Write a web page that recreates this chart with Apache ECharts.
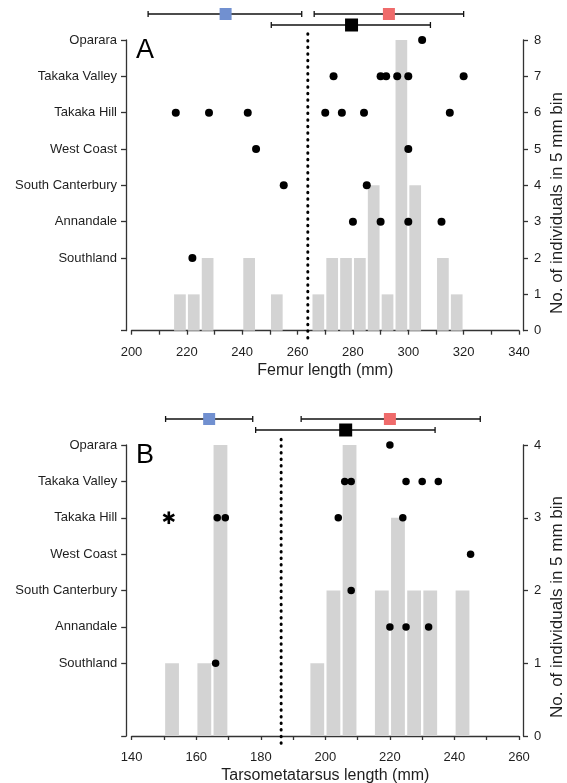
<!DOCTYPE html>
<html>
<head>
<meta charset="utf-8">
<script src="https://cdn.jsdelivr.net/npm/echarts@6/dist/echarts.min.js"></script>
<style>
  html, body { margin: 0; padding: 0; background: #fff; }
  #chart { width: 567px; height: 783px; }
</style>
</head>
<body>
<div id="chart"></div>
<script>
// sites, top to bottom
const sites = ['Oparara', 'Takaka Valley', 'Takaka Hill', 'West Coast', 'South Canterbury', 'Annandale', 'Southland']

// panel A - femur
const femurTicks = [200, 220, 240, 260, 280, 300, 320, 340]
const femurBinStart = [215, 220, 225, 240, 250, 265, 270, 275, 280, 285, 290, 295, 300, 310, 315]
const femurBinCount = [1, 1, 2, 2, 1, 1, 2, 2, 2, 4, 1, 8, 4, 2, 1]
const femurDots = [
    [305],
    [273, 290, 292, 296, 300, 320],
    [216, 228, 242, 270, 276, 284, 315],
    [245, 300],
    [255, 285],
    [280, 290, 300, 312],
    [222]
]
const femurSmall = [206, 234, 261.5] // min, mean, max
const femurLarge = [266, 293, 320]
const femurPooled = [250.5, 279.5, 308]
const femurCutoff = 263.7

// panel B - tarsometatarsus
const tarsoTicks = [140, 160, 180, 200, 220, 240, 260]
const tarsoBinStart = [150, 160, 165, 195, 200, 205, 215, 220, 225, 230, 240]
const tarsoBinCount = [1, 1, 4, 1, 2, 4, 2, 3, 2, 2, 2]
const tarsoDots = [
    [220],
    [206, 208, 225, 230, 235],
    [166.5, 169, 204, 224],
    [245],
    [208],
    [220, 225, 232],
    [166]
]
const tarsoStar = [151.5, 'Takaka Hill']
const tarsoSmall = [150.5, 164, 177.5]
const tarsoLarge = [192.5, 220, 248]
const tarsoPooled = [178.4, 206.3, 234]
const tarsoCutoff = 186.3

const FONT = 'Liberation Sans, Arial, sans-serif'
const AXIS_COLOR = '#333'
const TEXT_COLOR = '#1e1e1e'
const BLUE = '#7190d0'
const RED = '#ef6b6b'

// site row -> position on the site axis
const rowA = i => 8 - i
const rowB = i => 4 - 0.5 * i

const axisLine = { show: true, lineStyle: { color: AXIS_COLOR, width: 1.3 } }
const axisTick = (len) => ({ show: true, length: len, lineStyle: { color: AXIS_COLOR, width: 1.3 } })

function xMain (min, max, ticks, name, grid) {
    return {
        type: 'value', gridIndex: grid, min: min, max: max, interval: 10, offset: 7,
        axisLine: axisLine, axisTick: axisTick(4),
        axisLabel: { customValues: ticks, fontSize: 13, color: TEXT_COLOR, fontFamily: FONT, margin: 8 },
        splitLine: { show: false },
        name: name, nameLocation: 'middle', nameGap: 25,
        nameTextStyle: { fontSize: 16, color: TEXT_COLOR, fontFamily: FONT }
    }
}
function xHidden (min, max, grid) {
    return { type: 'value', gridIndex: grid, min: min, max: max, show: false }
}
function ySites (max, labelVals, tickVals, toRow, grid) {
    return {
        type: 'value', gridIndex: grid, position: 'left', min: 0, max: max, interval: 1, offset: 5.5,
        axisLine: axisLine,
        axisTick: Object.assign(axisTick(5), { customValues: tickVals }),
        axisLabel: {
            customValues: labelVals, fontSize: 13, color: TEXT_COLOR, fontFamily: FONT, margin: 9,
            formatter: (v) => {
                const i = sites.findIndex((s, k) => Math.abs(toRow(k) - v) < 1e-6)
                return i >= 0 ? sites[i] : ''
            }
        },
        splitLine: { show: false }
    }
}
function yCount (max, grid) {
    return {
        type: 'value', gridIndex: grid, position: 'right', min: 0, max: max, interval: 1, offset: 4,
        axisLine: axisLine, axisTick: axisTick(5),
        axisLabel: { fontSize: 13, color: TEXT_COLOR, fontFamily: FONT, margin: 11 },
        splitLine: { show: false }
    }
}
function yHidden (grid) {
    return { type: 'value', gridIndex: grid, min: 0, max: 2, show: false }
}

function barSeries (starts, counts, xi, yi, width) {
    return {
        type: 'bar', xAxisIndex: xi, yAxisIndex: yi, barWidth: width,
        itemStyle: { color: '#d3d3d3' },
        silent: true,
        data: starts.map((s, i) => [s + 2.5, counts[i]])
    }
}
function dotSeries (dots, toRow, xi, yi, size) {
    const data = []
    dots.forEach((list, i) => list.forEach(v => data.push([v, toRow(i)])))
    return {
        type: 'scatter', xAxisIndex: xi, yAxisIndex: yi, symbolSize: size,
        itemStyle: { color: '#000', opacity: 1 },
        data: data, z: 4
    }
}
function cutoffSeries (x, y0, y1, xi, yi) {
    return {
        type: 'line', xAxisIndex: xi, yAxisIndex: yi, clip: false, symbol: 'none',
        lineStyle: { color: '#000', width: 3, type: [0.5, 6.1], cap: 'round' },
        data: [[x, y0], [x, y1]], z: 3
    }
}
function errorSeries (groups, xi, yi) {
    return {
        type: 'custom', xAxisIndex: xi, yAxisIndex: yi, clip: false,
        data: groups.map(g => ({ value: [g.r[0], g.r[1], g.r[2], g.row, g.size], itemStyle: { color: g.color } })),
        renderItem: (params, api) => {
            const row = api.value(3)
            const lo = api.coord([api.value(0), row])
            const mid = api.coord([api.value(1), row])
            const hi = api.coord([api.value(2), row])
            const s = api.value(4)
            const ls = { stroke: '#111', lineWidth: 1.3 }
            return {
                type: 'group',
                children: [
                    { type: 'line', shape: { x1: lo[0], y1: lo[1], x2: hi[0], y2: hi[1] }, style: ls },
                    { type: 'line', shape: { x1: lo[0], y1: lo[1] - 3, x2: lo[0], y2: lo[1] + 3 }, style: ls },
                    { type: 'line', shape: { x1: hi[0], y1: hi[1] - 3, x2: hi[0], y2: hi[1] + 3 }, style: ls },
                    { type: 'rect', shape: { x: mid[0] - s / 2, y: mid[1] - s / 2, width: s, height: s }, style: { fill: api.visual('color') } }
                ]
            }
        }
    }
}
// six-armed asterisk drawn around a data point
function starSeries (pt, xi, yi) {
    return {
        type: 'custom', xAxisIndex: xi, yAxisIndex: yi,
        data: [pt],
        renderItem: (params, api) => {
            const c = api.coord([api.value(0), api.value(1)])
            const r = 6.3
            const arms = [90, 30, 150].map(a => {
                const dx = r * Math.cos(a * Math.PI / 180)
                const dy = r * Math.sin(a * Math.PI / 180)
                return { type: 'line', shape: { x1: c[0] - dx, y1: c[1] - dy, x2: c[0] + dx, y2: c[1] + dy },
                    style: { stroke: '#000', lineWidth: 2.6 } }
            })
            return { type: 'group', children: arms }
        }
    }
}

const option = {
    animation: false,
    backgroundColor: '#fff',
    grid: [
        { left: 131.5, right: 48, top: 40, height: 290.7, outerBoundsMode: 'none' },
        { left: 131.5, right: 48, top: 8.5, height: 22, outerBoundsMode: 'none' },
        { left: 131.7, right: 48, top: 445, height: 291, outerBoundsMode: 'none' },
        { left: 131.7, right: 48, top: 413.5, height: 22, outerBoundsMode: 'none' }
    ],
    xAxis: [
        xMain(200, 340, femurTicks, 'Femur length (mm)', 0),
        xHidden(200, 340, 1),
        xMain(140, 260, tarsoTicks, 'Tarsometatarsus length (mm)', 2),
        xHidden(140, 260, 3)
    ],
    yAxis: [
        ySites(8, [2, 3, 4, 5, 6, 7, 8], [0, 2, 3, 4, 5, 6, 7, 8], rowA, 0),
        yCount(8, 0),
        yHidden(1),
        ySites(4, [1, 1.5, 2, 2.5, 3, 3.5, 4], [0, 1, 1.5, 2, 2.5, 3, 3.5, 4], rowB, 2),
        yCount(4, 2),
        yHidden(3)
    ],
    series: [
        barSeries(femurBinStart, femurBinCount, 0, 1, 11.7),
        cutoffSeries(femurCutoff, -0.2, 8.28, 0, 0),
        dotSeries(femurDots, rowA, 0, 0, 8),
        errorSeries([
            { r: femurSmall, row: 1.5, color: BLUE, size: 12 },
            { r: femurLarge, row: 1.5, color: RED, size: 12 },
            { r: femurPooled, row: 0.5, color: '#000', size: 13 }
        ], 1, 2),

        barSeries(tarsoBinStart, tarsoBinCount, 2, 4, 13.8),
        cutoffSeries(tarsoCutoff, -0.1, 4.1, 2, 3),
        dotSeries(tarsoDots, rowB, 2, 3, 7.5),
        starSeries([tarsoStar[0], rowB(sites.indexOf(tarsoStar[1]))], 2, 3),
        errorSeries([
            { r: tarsoSmall, row: 1.5, color: BLUE, size: 12 },
            { r: tarsoLarge, row: 1.5, color: RED, size: 12 },
            { r: tarsoPooled, row: 0.5, color: '#000', size: 13 }
        ], 3, 5)
    ],
    graphic: [
        { type: 'text', left: 136, top: 37, style: { text: 'A', fontSize: 27, fontFamily: FONT, fill: '#000' } },
        { type: 'text', left: 136, top: 442, style: { text: 'B', fontSize: 27, fontFamily: FONT, fill: '#000' } },
        { type: 'text', x: 557, y: 203, rotation: Math.PI / 2,
          style: { text: 'No. of individuals in 5 mm bin', fontSize: 17, fontFamily: FONT, fill: TEXT_COLOR, align: 'center', verticalAlign: 'middle' } },
        { type: 'text', x: 557, y: 607, rotation: Math.PI / 2,
          style: { text: 'No. of individuals in 5 mm bin', fontSize: 17, fontFamily: FONT, fill: TEXT_COLOR, align: 'center', verticalAlign: 'middle' } }
    ]
}

const chart = echarts.init(document.getElementById('chart'), null, { renderer: 'canvas' })
chart.setOption(option)
</script>
</body>
</html>
